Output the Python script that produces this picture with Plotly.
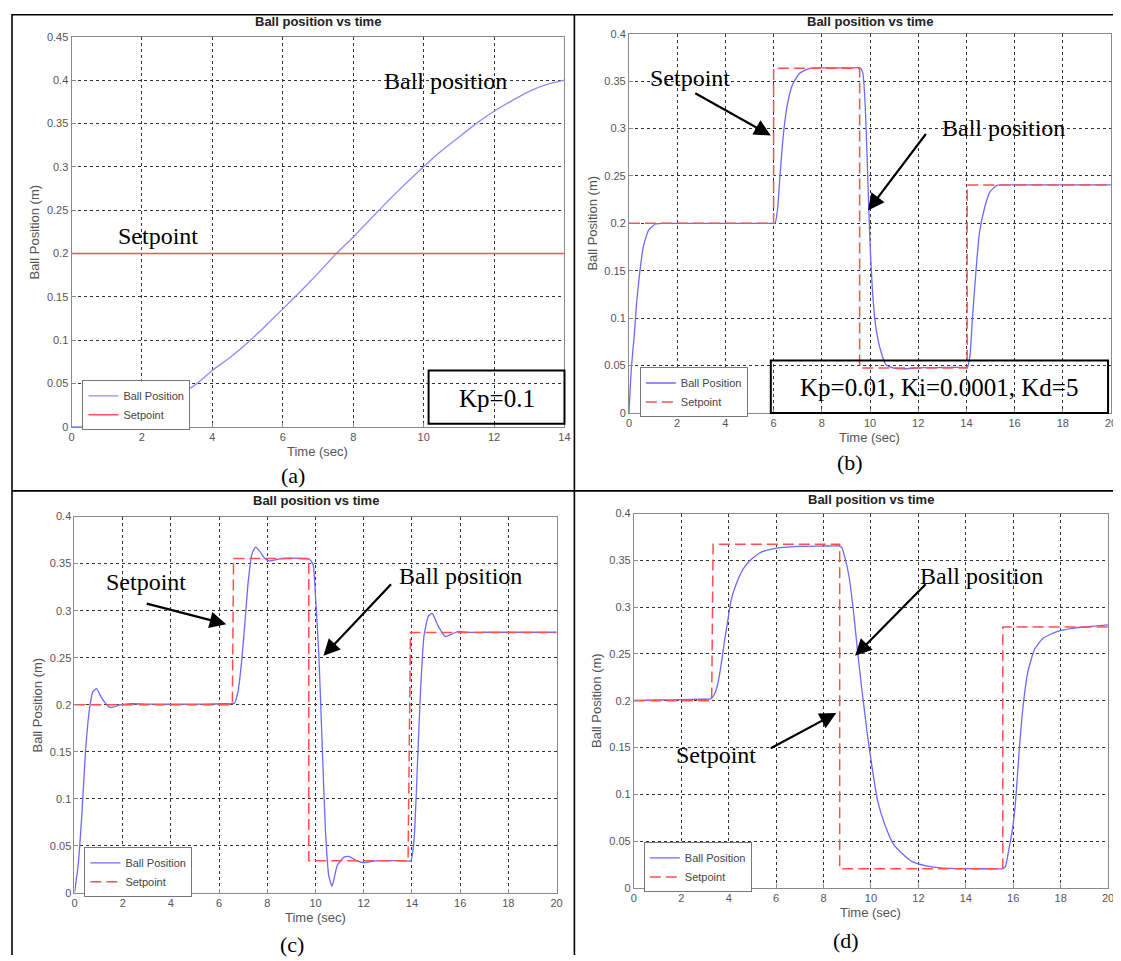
import plotly.graph_objects as go

# page is rendered with an 8px body margin: figure covers page pixels 8..1121 / 8..961
OFF = 8
W, H = 1121 - OFF, 961 - OFF

# ---------------- data ----------------
# (a) Kp=0.1
a_t = [0, 0.5, 1, 1.5, 2, 2.5, 3, 3.5, 4, 4.5, 5, 5.5, 6, 6.5, 7, 7.5, 8, 8.5, 9,
       9.5, 10, 10.5, 11, 11.5, 12, 12.5, 13, 13.5, 14]
a_ball = [0, 0.0007, 0.003, 0.008, 0.014, 0.023, 0.035, 0.048, 0.065, 0.08, 0.097,
          0.116, 0.136, 0.156, 0.177, 0.199, 0.219, 0.24, 0.261, 0.281, 0.3, 0.318,
          0.334, 0.35, 0.364, 0.376, 0.387, 0.395, 0.4]
a_sp_t = [0, 14]
a_sp = [0.2, 0.2]

# (b) Kp=0.01, Ki=0.0001, Kd=5
b_t = [0, 0.1, 0.22, 0.32, 0.46, 0.6, 0.82, 1.1, 1.5, 2.5, 3.5, 4.5, 5.5, 5.9, 6.06,
       6.16, 6.28, 6.42, 6.57, 6.78, 7.07, 7.43, 7.72, 8.2, 8.7, 9.2, 9.58, 9.7, 9.8,
       9.9, 9.99, 10.09, 10.23, 10.45, 10.66, 10.95, 11.3, 12.03, 12.7, 13.4, 13.9,
       14.04, 14.15, 14.25, 14.4, 14.54, 14.76, 14.97, 15.26, 15.62, 16.5, 17.5,
       18.5, 19.5, 20]
b_ball = [0, 0.0475, 0.082, 0.117, 0.151, 0.176, 0.193, 0.1993, 0.2, 0.2, 0.2, 0.2,
          0.2, 0.2, 0.2, 0.214, 0.255, 0.297, 0.325, 0.346, 0.358, 0.363, 0.364, 0.364,
          0.364, 0.364, 0.364, 0.359, 0.325, 0.255, 0.186, 0.134, 0.0925, 0.065, 0.051,
          0.0475, 0.0465, 0.0475, 0.0478, 0.048, 0.048, 0.048, 0.061, 0.1, 0.151, 0.19,
          0.217, 0.233, 0.24, 0.2405, 0.2405, 0.2405, 0.2405, 0.2405, 0.2405]
b_sp_t = [0, 6.0, 6.0, 9.57, 9.57, 14.03, 14.03, 20]
b_sp = [0.2, 0.2, 0.3636, 0.3636, 0.0475, 0.0475, 0.2405, 0.2405]

# (c)
c_t = [0, 0.15, 0.3, 0.46, 0.61, 0.76, 0.91, 1.14, 1.37, 1.52, 1.9, 2.36, 3.3, 4.3,
       5.3, 6.2, 6.5, 6.63, 6.78, 6.93, 7.08, 7.2, 7.36, 7.51, 7.69, 7.88, 8.07, 8.45,
       8.9, 9.3, 9.75, 9.9, 10.0, 10.14, 10.28, 10.41, 10.55, 10.69, 10.9, 11.17,
       11.38, 11.72, 12.02, 12.5, 13.0, 13.5, 13.95, 14.09, 14.23, 14.36, 14.5, 14.68,
       14.84, 15.08, 15.38, 15.66, 15.93, 16.27, 17, 18, 19, 20]
c_ball = [0, 0.029, 0.081, 0.151, 0.193, 0.2136, 0.217, 0.2066, 0.199, 0.197,
          0.1997, 0.201, 0.2005, 0.2005, 0.2005, 0.201, 0.201, 0.2015, 0.213, 0.245,
          0.29, 0.329, 0.36, 0.3676, 0.363, 0.356, 0.353, 0.3547, 0.3557, 0.3555,
          0.3547, 0.349, 0.315, 0.252, 0.155, 0.067, 0.018, 0.007, 0.029, 0.0377,
          0.0387, 0.034, 0.032, 0.034, 0.0342, 0.0342, 0.034, 0.057, 0.137, 0.217,
          0.273, 0.294, 0.297, 0.284, 0.2725, 0.275, 0.278, 0.277, 0.277, 0.277,
          0.277, 0.277]
c_sp_t = [0, 6.55, 6.6, 9.72, 9.72, 13.84, 13.94, 20]
c_sp = [0.2, 0.2, 0.3555, 0.3555, 0.0342, 0.0342, 0.2768, 0.2768]

# (d)
d_t = [0, 1, 2, 2.8, 3.23, 3.37, 3.52, 3.67, 3.81, 3.96, 4.1, 4.32, 4.61, 4.9, 5.34,
       5.92, 6.94, 7.8, 8.4, 8.61, 8.76, 8.9, 9.08, 9.27, 9.44, 9.63, 9.85, 10.07,
       10.28, 10.57, 10.94, 11.3, 11.74, 12.32, 13.05, 13.8, 14.6, 15.2, 15.52, 15.67,
       15.81, 15.96, 16.1, 16.25, 16.39, 16.61, 16.9, 17.27, 17.85, 18.57, 19.3, 20]
d_ball = [0.2004, 0.2008, 0.2012, 0.2016, 0.202, 0.2056, 0.216, 0.237, 0.262, 0.286,
          0.3075, 0.325, 0.341, 0.35, 0.3585, 0.3627, 0.3649, 0.3653, 0.3655, 0.3656,
          0.364, 0.353, 0.332, 0.2935, 0.251, 0.209, 0.1634, 0.1248, 0.093, 0.0685,
          0.047, 0.037, 0.028, 0.0235, 0.021, 0.0206, 0.0204, 0.0204, 0.0204, 0.0228,
          0.0404, 0.0615, 0.093, 0.146, 0.188, 0.23, 0.255, 0.267, 0.274, 0.2777,
          0.2794, 0.281]
d_sp_t = [0, 3.28, 3.34, 8.68, 8.68, 15.56, 15.56, 20]
d_sp = [0.2, 0.2, 0.3673, 0.3673, 0.0204, 0.0204, 0.2787, 0.2787]

a_xticks = [0, 2, 4, 6, 8, 10, 12, 14]
bcd_xticks = [0, 2, 4, 6, 8, 10, 12, 14, 16, 18, 20]
a_yticks = [0, 0.05, 0.1, 0.15, 0.2, 0.25, 0.3, 0.35, 0.4, 0.45]
a_ylabels = ["0", "0.05", "0.1", "0.15", "0.2", "0.25", "0.3", "0.35", "0.4", "0.45"]
bcd_yticks = [0, 0.05, 0.1, 0.15, 0.2, 0.25, 0.3, 0.35, 0.4]
bcd_ylabels = ["0", "0.05", "0.1", "0.15", "0.2", "0.25", "0.3", "0.35", "0.4"]

panel_tags = ["(a)", "(b)", "(c)", "(d)"]
param_texts = ["Kp=0.1", "Kp=0.01, Ki=0.0001, Kd=5"]
plot_title = "Ball position vs time"
x_title = "Time (sec)"
y_title = "Ball Position (m)"
series_names = ["Ball Position", "Setpoint"]

# ---------------- layout helpers (page pixels -> paper) ----------------
def px(x):
    return (x - OFF) / W

def py(y):
    return 1 - (y - OFF) / H

SANS = "Liberation Sans, Arial, sans-serif"
SERIF = "Liberation Serif, Times New Roman, serif"

# plot-area page-pixel boxes: (left, right, top, bottom)
boxes = [(69, 566, 31, 426), (631, 1117, 28, 412), (72, 558, 517, 898), (636, 1114, 514, 893)]
title_y = [16, 16, 501, 500]
xranges = [[0, 14], [0, 20], [0, 20], [0, 20]]
yranges = [[0, 0.45], [0, 0.4], [0, 0.4], [0, 0.4]]
xticks = [a_xticks, bcd_xticks, bcd_xticks, bcd_xticks]
yticks = [a_yticks, bcd_yticks, bcd_yticks, bcd_yticks]
ylabels = [a_ylabels, bcd_ylabels, bcd_ylabels, bcd_ylabels]
legend_pos = [(80, 379), (642, 366), (82, 852), (646, 847)]

blue_a = "#8c8cff"
blue = "#6a6aff"
red = "#ff4f4f"

fig = go.Figure()

data = [
    (a_t, a_ball, a_sp_t, a_sp, blue_a, "solid"),
    (b_t, b_ball, b_sp_t, b_sp, blue, "11px,5px"),
    (c_t, c_ball, c_sp_t, c_sp, blue, "11px,5px"),
    (d_t, d_ball, d_sp_t, d_sp, blue, "11px,5px"),
]

layout = dict(
    width=W, height=H, autosize=False,
    margin=dict(l=0, r=0, t=0, b=0),
    paper_bgcolor="white", plot_bgcolor="white",
    annotations=[], shapes=[],
)

for i, (bt, bv, st, sv, bcol, dash) in enumerate(data):
    n = "" if i == 0 else str(i + 1)
    leg = "legend" + n
    fig.add_trace(go.Scatter(x=bt, y=bv, mode="lines", name=series_names[0],
                             line=dict(color=bcol, width=1.3, shape="spline", smoothing=0.5),
                             xaxis="x" + n, yaxis="y" + n, legend=leg))
    fig.add_trace(go.Scatter(x=st, y=sv, mode="lines", name=series_names[1],
                             line=dict(color=red, width=1.5, dash=dash),
                             xaxis="x" + n, yaxis="y" + n, legend=leg))
    l, r, t, b = boxes[i]
    common = dict(showline=True, mirror=True, linecolor="#8a8a8a", linewidth=1,
                  showgrid=True, gridcolor="#333333", griddash="dot", gridwidth=1,
                  zeroline=False, ticks="inside", ticklen=4, tickcolor="#8a8a8a",
                  tickfont=dict(family=SANS, size=11, color="#555555"), fixedrange=True)
    layout["xaxis" + n] = dict(domain=[px(l), px(r)], range=xranges[i],
                               tickvals=xticks[i], ticktext=[str(v) for v in xticks[i]],
                               anchor="y" + n, **common)
    layout["yaxis" + n] = dict(domain=[py(b), py(t)], range=yranges[i],
                               tickvals=yticks[i], ticktext=ylabels[i],
                               anchor="x" + n, **common)
    lx, ly = legend_pos[i]
    layout[leg] = dict(x=px(lx), y=py(ly), xanchor="left", yanchor="top",
                       bgcolor="white", bordercolor="#777777", borderwidth=1,
                       font=dict(family=SANS, size=11, color="#444444"),
                       tracegroupgap=0, itemwidth=30)
    cx = (l + r) / 2
    layout["annotations"].append(dict(text="<b>" + plot_title + "</b>", xref="paper", yref="paper",
                                      x=px(cx), y=py(title_y[i]), showarrow=False,
                                      font=dict(family=SANS, size=13, color="#222222"),
                                      xanchor="center", yanchor="middle"))
    layout["annotations"].append(dict(text=x_title, xref="paper", yref="paper",
                                      x=px(cx), y=py(b + 25), showarrow=False,
                                      font=dict(family=SANS, size=13, color="#555555"),
                                      xanchor="center", yanchor="middle"))
    layout["annotations"].append(dict(text=y_title, xref="paper", yref="paper",
                                      x=px(l - 37), y=py((t + b) / 2), showarrow=False,
                                      textangle=-90,
                                      font=dict(family=SANS, size=13, color="#555555"),
                                      xanchor="center", yanchor="middle"))

# panel tags
tag_pos = [(292, 475), (854, 462), (291, 950), (850, 946)]
for tag, (x, y) in zip(panel_tags, tag_pos):
    layout["annotations"].append(dict(text=tag, xref="paper", yref="paper", x=px(x), y=py(y),
                                      showarrow=False, font=dict(family=SERIF, size=22, color="black"),
                                      xanchor="center", yanchor="middle"))

# big labels
labels = [
    ("Ball position", 446, 76), ("Setpoint", 156, 233),
    ("Setpoint", 693, 73), ("Ball position", 1009, 123),
    ("Setpoint", 144, 583), ("Ball position", 461, 577),
    ("Ball position", 986, 577), ("Setpoint", 719, 758),
]
for txt, x, y in labels:
    layout["annotations"].append(dict(text=txt, xref="paper", yref="paper", x=px(x), y=py(y),
                                      showarrow=False, font=dict(family=SERIF, size=24, color="black"),
                                      xanchor="center", yanchor="middle"))

# arrows: (tail x, tail y, head x, head y) in page pixels
arrows = [(697, 88, 774, 131), (931, 129, 872, 207),
          (144, 605, 225, 626), (392, 585, 323, 658),
          (931, 585, 859, 658), (773, 752, 840, 716)]
for tx, ty, hx, hy in arrows:
    layout["annotations"].append(dict(text="", xref="paper", yref="paper", x=px(hx), y=py(hy),
                                      ax=tx - hx, ay=ty - hy, axref="pixel", ayref="pixel",
                                      showarrow=True, arrowhead=2, arrowsize=1.5, arrowwidth=2.2,
                                      arrowcolor="black", standoff=0, startstandoff=0))

# parameter boxes
pboxes = [(429, 369, 566, 423), (774, 359, 1114, 412)]
for txt, (x0, y0, x1, y1) in zip(param_texts, pboxes):
    layout["shapes"].append(dict(type="rect", xref="paper", yref="paper",
                                 x0=px(x0), x1=px(x1), y0=py(y1), y1=py(y0),
                                 line=dict(color="black", width=2), fillcolor="rgba(0,0,0,0)"))
    layout["annotations"].append(dict(text=txt, xref="paper", yref="paper",
                                      x=px((x0 + x1) / 2), y=py((y0 + y1) / 2 + 1),
                                      showarrow=False, font=dict(family=SERIF, size=25, color="black"),
                                      xanchor="center", yanchor="middle"))

# panel frame lines
frame = [(9, 8.8, 1121, 8.8), (9, 8, 9, 961), (576, 8, 576, 961), (9, 491, 1121, 491)]
for x0, y0, x1, y1 in frame:
    layout["shapes"].append(dict(type="line", xref="paper", yref="paper",
                                 x0=px(x0), y0=py(y0), x1=px(x1), y1=py(y1),
                                 line=dict(color="black", width=1.6)))

fig.update_layout(**layout)
fig.write_html("out.html")
